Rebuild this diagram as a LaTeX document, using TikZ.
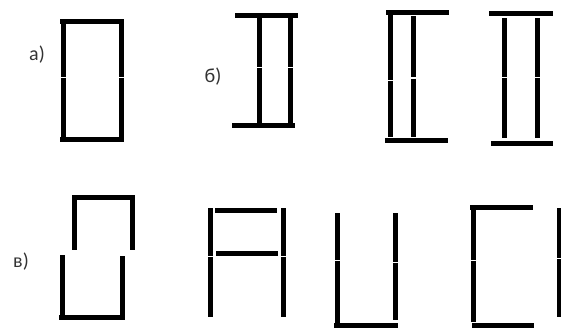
\documentclass[tikz,border=0pt]{standalone}
\usepackage{fontspec}
\setmainfont{Carlito}
\usepackage{tikz}

\begin{document}
\begin{tikzpicture}[
  x=1pt, y=-1pt,
  stick/.style={line width=5pt, line cap=butt, black},
  tag/.style={font=\fontsize{20}{24}\selectfont, text=black!80, inner sep=0pt}
]
  \useasboundingbox (0,0) rectangle (561,330);

  % labels
  \node[tag] (la) at (37,55) {а)};
  \node[tag] (lb) at (213,77) {б)};
  \node[tag] (lv) at (21,262) {в)};

  % a) rectangle
  \draw[stick] (60,21) -- (124,21);
  \draw[stick] (60,139) -- (124,139);
  \foreach \x in {63,121} {
    \draw[stick] (\x,23) -- (\x,76.5);
    \draw[stick] (\x,77.5) -- (\x,137);
  }

  % b) first
  \draw[stick] (235,15) -- (298,15);
  \draw[stick] (232,125) -- (295,125);
  \foreach \x in {259,290} {
    \draw[stick] (\x,17) -- (\x,66.5);
    \draw[stick] (\x,67.5) -- (\x,123);
  }

  % b) second
  \draw[stick] (386,12) -- (449,12);
  \draw[stick] (385,140) -- (448,140);
  \draw[stick] (390,15) -- (390,79.5);
  \draw[stick] (390,80.5) -- (390,137);
  \draw[stick] (413,16) -- (413,77);
  \draw[stick] (413,78.5) -- (413,137);

  % b) third
  \draw[stick] (489,13) -- (553,13);
  \draw[stick] (491,143) -- (553,143);
  \foreach \x in {504,537} {
    \draw[stick] (\x,18) -- (\x,76.5);
    \draw[stick] (\x,77.5) -- (\x,138);
  }

  % v) first
  \draw[stick] (72,197) -- (135,197);
  \draw[stick] (74,199) -- (74,250);
  \draw[stick] (132,199) -- (132,250);
  \draw[stick] (62,255) -- (62,315);
  \draw[stick] (122,256) -- (122,315);
  \draw[stick] (59,317) -- (125,317);

  % v) second
  \foreach \x in {210,283} {
    \draw[stick] (\x,208) -- (\x,255.5);
    \draw[stick] (\x,256.5) -- (\x,317);
  }
  \draw[stick] (215,210) -- (277,210);
  \draw[stick] (216,253) -- (278,253);

  % v) third
  \draw[stick] (337,213) -- (337,259.5);
  \draw[stick] (337,260.5) -- (337,323);
  \draw[stick] (395,213) -- (395,261.5);
  \draw[stick] (395,262.5) -- (395,320);
  \draw[stick] (334,325) -- (398,325);

  % v) fourth
  \draw[stick] (473,208) -- (473,259.5);
  \draw[stick] (473,260.5) -- (473,322);
  \draw[stick] (470,207) -- (533,207);
  \draw[stick] (472,325) -- (534,325);
  \draw[stick] (559,208) -- (559,257.5);
  \draw[stick] (559,258.5) -- (559,317);
\end{tikzpicture}
\end{document}
